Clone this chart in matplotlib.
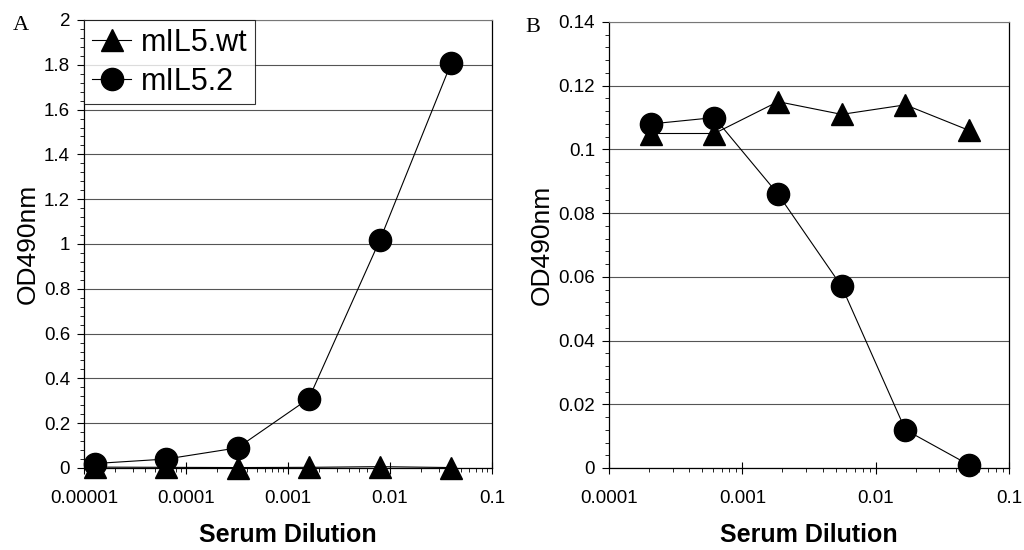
import matplotlib
matplotlib.use("Agg")
import matplotlib.pyplot as plt
import numpy as np
from matplotlib.ticker import FuncFormatter, MultipleLocator, LogLocator, NullFormatter

plt.rcParams['font.family'] = ['Liberation Sans', 'DejaVu Sans']

# panel A: 5-fold serum dilutions
dil_a = [0.0000128, 0.000064, 0.00032, 0.0016, 0.008, 0.04]
wt_a = [0.004, 0.003, 0.002, 0.003, 0.006, 0.002]
m2_a = [0.02, 0.04, 0.09, 0.31, 1.02, 1.81]

# panel B: 3-fold serum dilutions
dil_b = [0.000206, 0.000617, 0.00185, 0.00556, 0.0167, 0.05]
wt_b = [0.105, 0.105, 0.115, 0.111, 0.114, 0.106]
m2_b = [0.108, 0.110, 0.086, 0.057, 0.012, 0.001]

legend_labels = ['mIL5.wt', 'mIL5.2']


def plain(v, pos):
    return np.format_float_positional(v, trim='-')


def style_axis(ax, xlim, ylim, ystep, yminor):
    ax.set_xscale('log')
    ax.set_xlim(*xlim)
    ax.set_ylim(*ylim)
    ax.yaxis.set_major_locator(MultipleLocator(ystep))
    ax.yaxis.set_minor_locator(MultipleLocator(yminor))
    ax.yaxis.set_major_formatter(FuncFormatter(lambda v, p: '{:g}'.format(round(v, 6))))
    ax.xaxis.set_major_locator(LogLocator(base=10))
    ax.xaxis.set_minor_locator(LogLocator(base=10, subs=np.arange(2, 10)))
    ax.xaxis.set_major_formatter(FuncFormatter(plain))
    ax.xaxis.set_minor_formatter(NullFormatter())
    ax.grid(axis='y', which='major', color='#555555', linewidth=0.8)
    ax.set_axisbelow(True)
    ax.tick_params(axis='both', which='major', labelsize=13.5, length=5, width=0.8, direction='out')
    ax.tick_params(axis='y', which='major', pad=5)
    ax.tick_params(axis='x', which='major', direction='inout', length=8, pad=12)
    ax.tick_params(axis='both', which='minor', length=3, width=0.6)
    ax.spines['top'].set_color('#777777')
    for s in ['left', 'right', 'bottom']:
        ax.spines[s].set_linewidth(0.9)
    ax.set_xlabel('Serum Dilution', fontsize=18, fontweight='bold', labelpad=11)
    ax.set_ylabel('OD490nm', fontsize=19, labelpad=3)


fig = plt.figure(figsize=(10.24, 5.5), dpi=100)
ax1 = fig.add_axes([84 / 1024, 1 - 468 / 550, 408 / 1024, 448 / 550])
ax2 = fig.add_axes([609 / 1024, 1 - 468 / 550, 400 / 1024, 446 / 550])

ms = 16
for ax, d, wt, m2 in [(ax1, dil_a, wt_a, m2_a), (ax2, dil_b, wt_b, m2_b)]:
    ax.plot(d, wt, color='black', linewidth=0.8, marker='^', markersize=ms,
            label=legend_labels[0], clip_on=False, zorder=3)
    ax.plot(d, m2, color='black', linewidth=0.8, marker='o', markersize=ms,
            label=legend_labels[1], clip_on=False, zorder=4)

style_axis(ax1, (0.00001, 0.1), (0, 2), 0.2, 0.04)
style_axis(ax2, (0.0001, 0.1), (0, 0.14), 0.02, 0.004)

leg = ax1.legend(loc='upper left', fontsize=22, frameon=True, fancybox=False,
                 borderaxespad=0, borderpad=0.25, handlelength=1.3, handletextpad=0.3,
                 labelspacing=0.3, markerscale=1.0)
leg.get_frame().set_edgecolor('black')
leg.get_frame().set_linewidth(0.8)

fig.text(13 / 1024, 1 - 30 / 550, 'A', fontsize=16, family='Liberation Serif')
fig.text(525 / 1024, 1 - 32 / 550, 'B', fontsize=16, family='Liberation Serif')

fig.savefig('out.png', dpi=100)
